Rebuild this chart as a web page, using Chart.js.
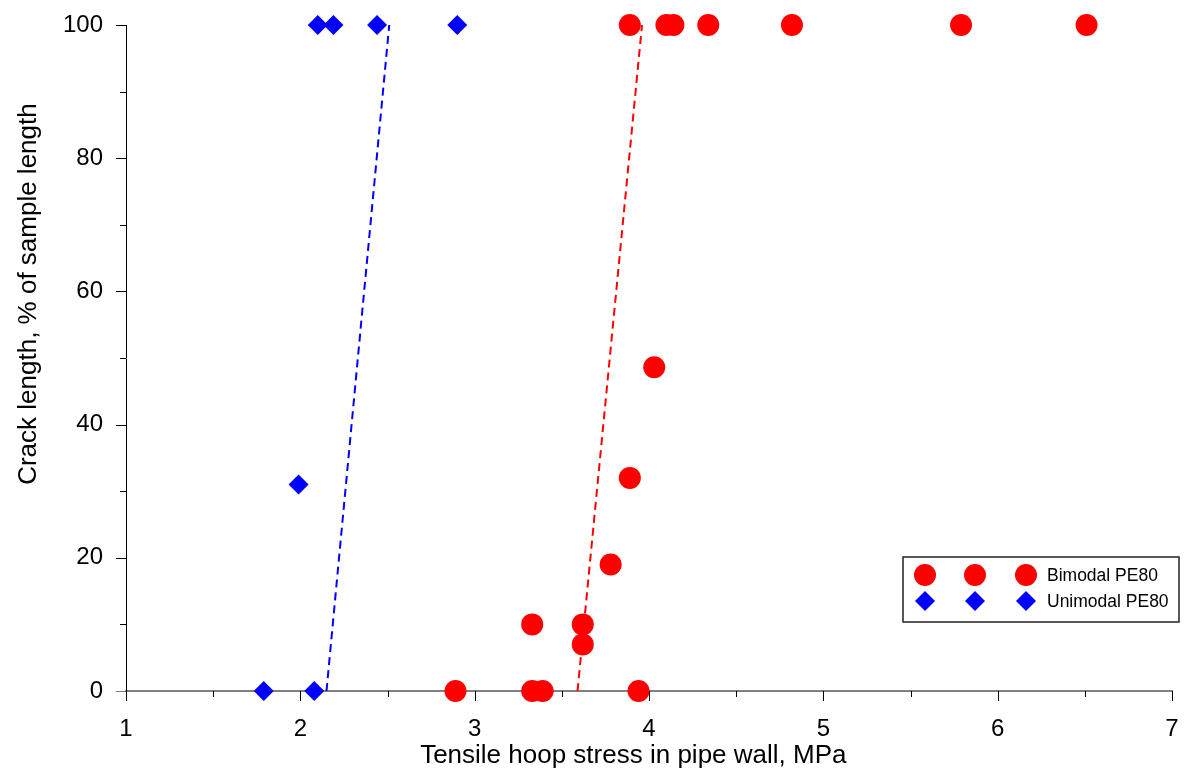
<!DOCTYPE html>
<html>
<head>
<meta charset="utf-8">
<script src="https://cdn.jsdelivr.net/npm/chart.js@4/dist/chart.umd.min.js"></script>
<style>
    body { margin: 0; background: #fff; }
</style>
</head>
<body>
<canvas id="chart" width="1184" height="775"></canvas>
<script>

// data
const bimodalX = [2.89, 3.33, 3.39, 3.94, 3.33, 3.62, 3.62, 3.78, 3.89, 4.03, 3.89, 4.10, 4.14, 4.34, 4.82, 5.79, 6.51]
const bimodalY = [0, 0, 0, 0, 10, 10, 7, 19, 32, 48.6, 100, 100, 100, 100, 100, 100, 100]

const unimodalX = [1.79, 2.08, 1.99, 2.10, 2.19, 2.44, 2.90]
const unimodalY = [0, 0, 31, 100, 100, 100, 100]

// dashed trend lines
const bimodalTrendX = [3.59, 3.96]
const bimodalTrendY = [0, 100]
const unimodalTrendX = [2.15, 2.51]
const unimodalTrendY = [0, 100]

const seriesNames = ['Bimodal PE80', 'Unimodal PE80']

const xTitle = 'Tensile hoop stress in pipe wall, MPa'
const yTitle = 'Crack length, % of sample length'

const RED = '#ff0000'
const BLUE = '#0000ff'
const FONT = "'Liberation Sans', Arial, sans-serif"

function toPoints(xs, ys){
    return xs.map((x, i) => ({ x: x, y: ys[i] }))
}

// tick marks, minor ones shorter (like excel)
const tickMarks = {
    id: 'tickMarks',
    afterDraw(chart){
        const ctx = chart.ctx
        const x = chart.scales.x
        const y = chart.scales.y

        ctx.save()
        ctx.lineWidth = 1

        for (let v = 0; v <= 100; v += 10) {
            const py = Math.round(y.getPixelForValue(v)) + 0.5
            const len = v % 20 === 0 ? 10 : 6
            ctx.strokeStyle = v === 0 ? '#808080' : '#000'
            ctx.beginPath()
            ctx.moveTo(x.left - len, py)
            ctx.lineTo(x.left, py)
            ctx.stroke()
        }

        ctx.strokeStyle = '#000'
        for (let v = 1; v <= 7; v += 0.5) {
            const px = Math.round(x.getPixelForValue(v)) + 0.5
            const len = Number.isInteger(v) ? 10 : 6
            ctx.beginPath()
            ctx.moveTo(px, y.bottom)
            ctx.lineTo(px, y.bottom + len)
            ctx.stroke()
        }
        ctx.restore()
    }
}

// axis titles placed like the excel original (y title sits above centre)
const axisTitles = {
    id: 'axisTitles',
    afterDraw(chart){
        const ctx = chart.ctx
        const x = chart.scales.x
        const y = chart.scales.y

        ctx.save()
        ctx.fillStyle = '#000'
        ctx.font = '26px ' + FONT
        ctx.textAlign = 'center'
        ctx.textBaseline = 'alphabetic'
        ctx.fillText(xTitle, x.getPixelForValue(3.91), chart.height - 12)

        ctx.translate(36, y.getPixelForValue(59.6))
        ctx.rotate(-Math.PI / 2)
        ctx.fillText(yTitle, 0, 0)
        ctx.restore()
    }
}

// legend with three markers per entry
const excelLegend = {
    id: 'excelLegend',
    afterDraw(chart){
        const ctx = chart.ctx
        const area = chart.chartArea

        const left = area.right - 269
        const top = area.bottom - 134
        const w = 276
        const h = 65

        ctx.save()
        ctx.fillStyle = '#fff'
        ctx.fillRect(left, top, w, h)
        ctx.strokeStyle = '#222'
        ctx.lineWidth = 1.5
        ctx.strokeRect(left, top, w, h)

        const styles = [
            { style: 'circle', radius: 11, color: RED },
            { style: 'rectRot', radius: 10, color: BLUE }
        ]

        styles.forEach((s, i) => {
            const cy = top + 18 + i * 26
            ctx.fillStyle = s.color
            ctx.strokeStyle = s.color
            ctx.lineWidth = 0;
            [22, 72, 123].forEach(dx => {
                Chart.helpers.drawPoint(ctx, { pointStyle: s.style, radius: s.radius, borderWidth: 0 }, left + dx, cy)
            })
            ctx.fillStyle = '#000'
            ctx.font = '17.5px ' + FONT
            ctx.textBaseline = 'middle'
            ctx.fillText(seriesNames[i], left + 144, cy + 1)
        })
        ctx.restore()
    }
}

new Chart(
    document.getElementById('chart'),
    {
        type: 'scatter',
        data: {
            datasets: [
                {
                    label: seriesNames[0],
                    data: toPoints(bimodalX, bimodalY),
                    pointStyle: 'circle',
                    pointRadius: 11,
                    pointBackgroundColor: RED,
                    pointBorderWidth: 0,
                    clip: false,
                    order: 1
                },
                {
                    label: seriesNames[1],
                    data: toPoints(unimodalX, unimodalY),
                    pointStyle: 'rectRot',
                    pointRadius: 10,
                    pointBackgroundColor: BLUE,
                    pointBorderWidth: 0,
                    clip: false,
                    order: 1
                },
                {
                    type: 'line',
                    data: toPoints(bimodalTrendX, bimodalTrendY),
                    borderColor: RED,
                    borderWidth: 2,
                    borderDash: [8, 5],
                    pointRadius: 0,
                    order: 2
                },
                {
                    type: 'line',
                    data: toPoints(unimodalTrendX, unimodalTrendY),
                    borderColor: BLUE,
                    borderWidth: 2,
                    borderDash: [8, 5],
                    pointRadius: 0,
                    order: 2
                }
            ]
        },
        options: {
            responsive: false,
            animation: false,
            layout: {
                padding: { top: 25, right: 12, left: 0, bottom: 0 }
            },
            plugins: {
                legend: { display: false },
                tooltip: { enabled: false }
            },
            scales: {
                x: {
                    type: 'linear',
                    min: 1,
                    max: 7,
                    grid: { display: false },
                    border: { display: true, color: '#808080', width: 2 },
                    ticks: {
                        stepSize: 1,
                        padding: 16,
                        color: '#000',
                        font: { family: FONT, size: 24 }
                    },
                    afterFit(scale){
                        scale.height = 84
                        scale.paddingLeft = 0
                        scale.paddingRight = 0
                    }
                },
                y: {
                    min: 0,
                    max: 100,
                    grid: { display: false },
                    border: { display: true, color: '#000', width: 1 },
                    ticks: {
                        stepSize: 20,
                        padding: 15,
                        color: '#000',
                        font: { family: FONT, size: 24 }
                    },
                    afterFit(scale){
                        scale.width = 126
                        scale.paddingTop = 0
                        scale.paddingBottom = 0
                    }
                }
            }
        },
        plugins: [tickMarks, axisTitles, excelLegend]
    }
);
</script>
</body>
</html>
